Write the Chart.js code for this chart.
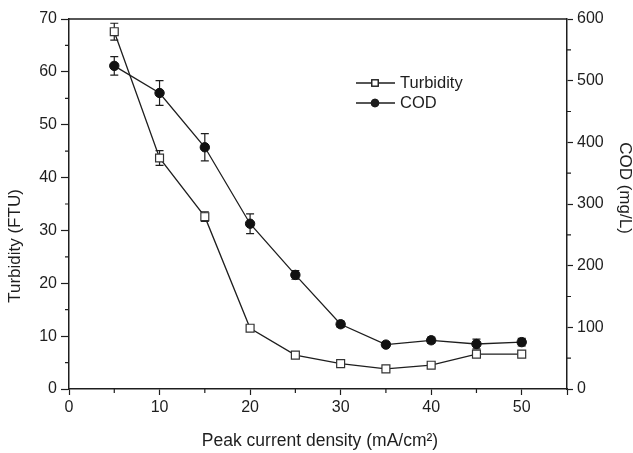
<!DOCTYPE html>
<html lang="en">
<head>
    <meta charset="UTF-8">
    <title>Turbidity and COD vs peak current density</title>
    <style>
        body { margin: 0; background: #fff; }
        .wrap { width: 633px; height: 453px; }
    </style>
</head>
<body>
    <div class="wrap"><canvas id="chart" width="633" height="453"></canvas></div>

    <script src="https://cdn.jsdelivr.net/npm/chart.js"></script>
    <script>
        // data
        const currentDensity = [5, 10, 15, 20, 25, 30, 35, 40, 45, 50];
        const turbidity = [67.6, 43.7, 32.6, 11.5, 6.4, 4.8, 3.8, 4.5, 6.6, 6.6];
        const turbidityErr = [1.6, 1.4, 0.9, 0.5, 0.4, 0.3, 0.3, 0.3, 0.3, 0.3];
        const cod = [524, 480, 392, 268, 185, 105, 72, 79, 73, 76];
        const codErr = [15, 20, 22, 16, 7, 5, 4, 5, 8, 6];

        const ink = '#1e1e1e';
        const font = "'Liberation Sans', Arial, sans-serif";

        // error bars, minor ticks, top frame, axis titles and the inset legend
        const extras = {
            id: 'extras',
            beforeDatasetsDraw(chart) {
                const ctx = chart.ctx;
                const x = chart.scales.x;
                const pairs = [[chart.scales.y, turbidity, turbidityErr], [chart.scales.y1, cod, codErr]];
                ctx.save();
                ctx.strokeStyle = ink;
                ctx.lineWidth = 1.2;
                pairs.forEach(([sc, vals, errs]) => {
                    vals.forEach((v, i) => {
                        const px = x.getPixelForValue(currentDensity[i]);
                        const top = sc.getPixelForValue(v + errs[i]);
                        const bot = sc.getPixelForValue(v - errs[i]);
                        ctx.beginPath();
                        ctx.moveTo(px, top); ctx.lineTo(px, bot);
                        ctx.moveTo(px - 4, top); ctx.lineTo(px + 4, top);
                        ctx.moveTo(px - 4, bot); ctx.lineTo(px + 4, bot);
                        ctx.stroke();
                    });
                });
                ctx.restore();
            },
            afterDraw(chart) {
                const ctx = chart.ctx;
                const a = chart.chartArea;
                const { x, y, y1 } = chart.scales;
                ctx.save();
                ctx.strokeStyle = ink;
                ctx.lineWidth = 1.5;

                // top frame
                ctx.beginPath();
                ctx.moveTo(a.left, a.top); ctx.lineTo(a.right, a.top);
                ctx.stroke();

                // minor ticks
                ctx.lineWidth = 1.2;
                ctx.beginPath();
                for (let v = 5; v < 70; v += 10) {
                    const p = y.getPixelForValue(v);
                    ctx.moveTo(a.left - 4, p); ctx.lineTo(a.left, p);
                }
                for (let v = 50; v < 600; v += 100) {
                    const p = y1.getPixelForValue(v);
                    ctx.moveTo(a.right, p); ctx.lineTo(a.right + 4, p);
                }
                for (let v = 5; v < 55; v += 10) {
                    const p = x.getPixelForValue(v);
                    ctx.moveTo(p, a.bottom); ctx.lineTo(p, a.bottom + 4);
                }
                ctx.stroke();

                // axis titles
                ctx.fillStyle = ink;
                ctx.font = '17.5px ' + font;
                ctx.textAlign = 'center';
                ctx.textBaseline = 'middle';
                ctx.fillText('Peak current density (mA/cm\u00b2)', 320, 441);

                ctx.font = '17px ' + font;
                ctx.save();
                ctx.translate(15, 246);
                ctx.rotate(-Math.PI / 2);
                ctx.fillText('Turbidity (FTU)', 0, 0);
                ctx.restore();

                ctx.save();
                ctx.translate(625, 188);
                ctx.rotate(Math.PI / 2);
                ctx.fillText('COD (mg/L)', 0, 0);
                ctx.restore();

                // legend
                const rows = [
                    { label: 'Turbidity', y: 83, style: 'rect', fill: '#fff' },
                    { label: 'COD', y: 103, style: 'circle', fill: ink }
                ];
                ctx.textAlign = 'left';
                ctx.font = '16.5px ' + font;
                rows.forEach(r => {
                    ctx.lineWidth = 1.3;
                    ctx.strokeStyle = ink;
                    ctx.beginPath();
                    ctx.moveTo(356, r.y); ctx.lineTo(395, r.y);
                    ctx.stroke();
                    Chart.helpers.drawPoint(ctx, {
                        pointStyle: r.style,
                        radius: r.style === 'rect' ? 4.5 : 3.6,
                        borderWidth: 1,
                        rotation: 0
                    }, 375, r.y);
                    ctx.fillStyle = r.fill;
                    ctx.fill();
                    ctx.stroke();
                    ctx.fillStyle = ink;
                    ctx.fillText(r.label, 400, r.y);
                });
                ctx.restore();
            }
        };

        const tickFont = { family: font, size: 16 };

        new Chart(document.getElementById('chart'), {
            type: 'line',
            data: {
                labels: currentDensity,
                datasets: [
                    {
                        label: 'Turbidity',
                        data: currentDensity.map((c, i) => ({ x: c, y: turbidity[i] })),
                        yAxisID: 'y',
                        borderColor: ink,
                        borderWidth: 1.3,
                        pointStyle: 'rect',
                        pointRadius: 5.6,
                        pointBackgroundColor: '#fff',
                        pointBorderColor: '#333',
                        pointBorderWidth: 1.2,
                        tension: 0
                    },
                    {
                        label: 'COD',
                        data: currentDensity.map((c, i) => ({ x: c, y: cod[i] })),
                        yAxisID: 'y1',
                        borderColor: ink,
                        borderWidth: 1.3,
                        pointStyle: 'circle',
                        pointRadius: 4.7,
                        pointBackgroundColor: '#111',
                        pointBorderColor: '#111',
                        pointBorderWidth: 1,
                        tension: 0
                    }
                ]
            },
            options: {
                responsive: false,
                animation: false,
                devicePixelRatio: 1,
                layout: { padding: { top: 19, left: 0, right: 0, bottom: 0 } },
                plugins: {
                    legend: { display: false },
                    tooltip: { enabled: false }
                },
                scales: {
                    x: {
                        type: 'linear',
                        min: 0,
                        max: 55,
                        afterFit(s) { s.height = 64; },
                        ticks: {
                            stepSize: 10,
                            color: ink,
                            font: tickFont,
                            padding: 3,
                            callback: v => (v % 10 === 0 && v <= 50 ? v : '')
                        },
                        grid: { drawOnChartArea: false, tickLength: 6, tickColor: ink, tickWidth: 1.2 },
                        border: { color: ink, width: 1.5 }
                    },
                    y: {
                        position: 'left',
                        min: 0,
                        max: 70,
                        afterFit(s) { s.width = 69; },
                        ticks: { stepSize: 10, color: ink, font: tickFont, padding: 4 },
                        grid: { drawOnChartArea: false, tickLength: 8, tickColor: ink, tickWidth: 1.2 },
                        border: { color: ink, width: 1.5 }
                    },
                    y1: {
                        position: 'right',
                        min: 0,
                        max: 600,
                        afterFit(s) { s.width = 66; },
                        ticks: { stepSize: 100, color: ink, font: tickFont, padding: 4 },
                        grid: { drawOnChartArea: false, tickLength: 6, tickColor: ink, tickWidth: 1.2 },
                        border: { color: ink, width: 1.5 }
                    }
                }
            },
            plugins: [extras]
        });
    </script>
</body>
</html>
